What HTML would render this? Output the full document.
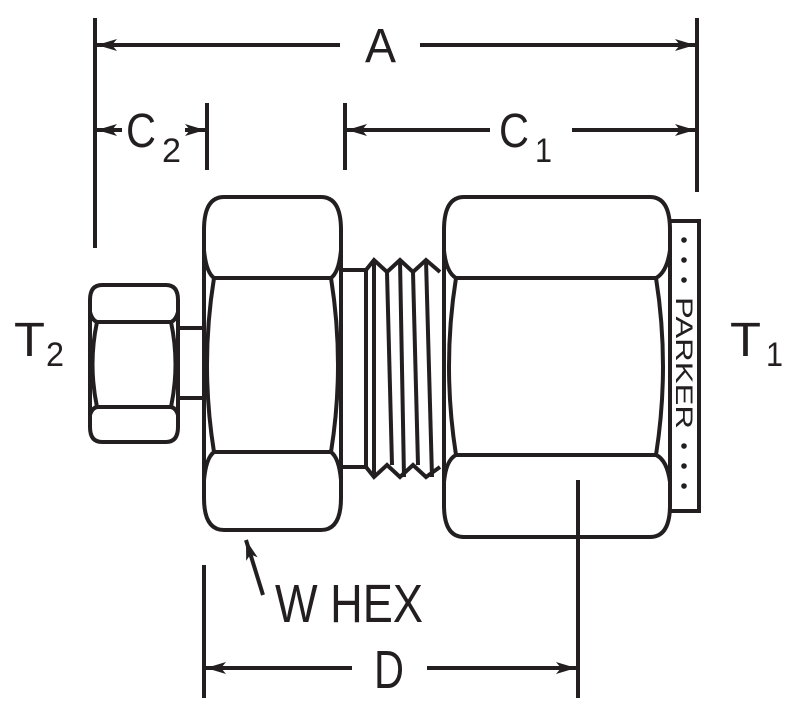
<!DOCTYPE html>
<html><head><meta charset="utf-8"><style>html,body{margin:0;padding:0;background:#fff}svg{display:block}</style></head><body>
<svg width="806" height="710" viewBox="0 0 806 710" xmlns="http://www.w3.org/2000/svg">
<defs>
<marker id="ar" viewBox="0 0 20 12" refX="20" refY="6" markerWidth="20" markerHeight="12" markerUnits="userSpaceOnUse" orient="auto-start-reverse"><path d="M0,0 L20,6 L0,12 L5,6 Z" fill="#231f20"/></marker>
</defs>
<g stroke="#231f20" stroke-width="4" fill="none">
<line x1="95" y1="18" x2="95" y2="248"/>
<line x1="697" y1="18" x2="697" y2="192"/>
<line x1="207" y1="103" x2="207" y2="170"/>
<line x1="345" y1="103" x2="345" y2="170"/>
<line x1="204" y1="565" x2="204" y2="698"/>
<line x1="578" y1="480" x2="578" y2="698"/>
<line x1="97" y1="45" x2="340" y2="45" marker-start="url(#ar)"/>
<line x1="420" y1="45" x2="695" y2="45" marker-end="url(#ar)"/>
<line x1="97" y1="130" x2="122" y2="130" marker-start="url(#ar)"/>
<line x1="185" y1="130" x2="205" y2="130" marker-end="url(#ar)"/>
<line x1="347" y1="130" x2="490" y2="130" marker-start="url(#ar)"/>
<line x1="572" y1="130" x2="695" y2="130" marker-end="url(#ar)"/>
<line x1="206" y1="668" x2="352" y2="668" marker-start="url(#ar)"/>
<line x1="427" y1="668" x2="576" y2="668" marker-end="url(#ar)"/>
<line x1="263" y1="595" x2="246" y2="540" marker-end="url(#ar)"/>

<!-- small nut -->
<path d="M102,285 H166 Q178,285 178,300 V427 Q178,442 166,442 H102 Q90,442 90,427 V300 Q90,285 102,285 Z"/>
<path d="M90,312 Q92,320 97,322 H171 Q176,320 178,312 M90,415 Q92,408 97,407 H171 Q176,408 178,415"/>
<path d="M97,322 Q88,364 97,407 M171,322 Q180,364 171,407"/>
<line x1="178" y1="328" x2="204" y2="328"/>
<line x1="178" y1="398" x2="204" y2="398"/>

<!-- big nut left -->
<path d="M224,197 H321 Q341,197 341,230 V498 Q341,530 321,530 H224 Q204,530 204,498 V230 Q204,197 224,197 Z"/>
<path d="M204,250 Q206,272 214,278 H331 Q339,272 341,250 M204,480 Q206,458 214,452 H331 Q339,458 341,480"/>
<path d="M214,278 Q200,365 214,452 M331,278 Q345,365 331,452"/>

<!-- neck -->
<path d="M341,270 H366 V467 H341"/>
<path d="M366,270 L374,260 L387,272 L400,260 L413,272 L426,260 L440,272"/>
<path d="M366,467 L374,477 L387,465 L400,477 L413,465 L426,477 L440,467"/>
<path d="M374,260 L374,477 M387,272 L392,465 M400,260 L404,477 M413,272 L418,465 M426,260 L432,477"/>

<!-- right nut -->
<path d="M464,197 H650 Q670,197 670,230 V505 Q670,537 650,537 H464 Q444,537 444,505 V230 Q444,197 464,197 Z"/>
<path d="M444,250 Q446,272 456,278 H656 Q667,272 670,250 M444,482 Q446,460 456,455 H656 Q667,460 670,482"/>
<path d="M456,278 Q442,366 456,455 M656,278 Q670,366 656,455"/>

<path d="M670,221 H699 V511 H670"/>
</g>
<g fill="#231f20">
<circle cx="684" cy="240" r="2.8"/><circle cx="684" cy="260" r="2.8"/><circle cx="684" cy="280" r="2.8"/>
<circle cx="684" cy="446" r="2.8"/><circle cx="684" cy="466" r="2.8"/><circle cx="684" cy="486" r="2.8"/>
</g>
<g font-family="Liberation Sans, sans-serif" fill="#231f20">
<text x="0" y="0" font-size="24" textLength="132" lengthAdjust="spacingAndGlyphs" transform="translate(676,297) rotate(90)">PARKER</text>
<text x="365" y="62" font-size="48" textLength="31" lengthAdjust="spacingAndGlyphs">A</text>
<text x="126" y="147" font-size="48" textLength="30" lengthAdjust="spacingAndGlyphs">C</text>
<text x="162" y="162" font-size="34" textLength="19" lengthAdjust="spacingAndGlyphs">2</text>
<text x="499" y="147" font-size="48" textLength="30" lengthAdjust="spacingAndGlyphs">C</text>
<text x="535" y="162" font-size="34" textLength="17" lengthAdjust="spacingAndGlyphs">1</text>
<text x="14" y="356" font-size="48" textLength="31" lengthAdjust="spacingAndGlyphs">T</text>
<text x="46" y="366" font-size="34" textLength="18" lengthAdjust="spacingAndGlyphs">2</text>
<text x="730" y="356" font-size="48" textLength="31" lengthAdjust="spacingAndGlyphs">T</text>
<text x="766" y="366" font-size="34" textLength="17" lengthAdjust="spacingAndGlyphs">1</text>
<text x="275" y="622" font-size="54" textLength="148" lengthAdjust="spacingAndGlyphs">W HEX</text>
<text x="374" y="688" font-size="54" textLength="30" lengthAdjust="spacingAndGlyphs">D</text>
</g>
</svg>
</body></html>
